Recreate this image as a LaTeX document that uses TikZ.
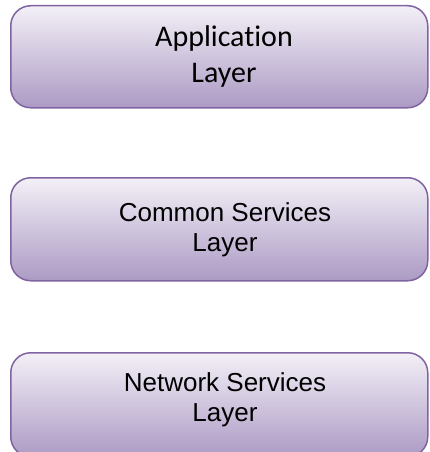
\documentclass[tikz,border=0pt]{standalone}
\usepackage{fontspec}
\setmainfont{Liberation Sans}
\newfontfamily\calib[Ligatures=NoCommon]{Carlito}
\definecolor{boxborder}{HTML}{8064A2}
\definecolor{boxtop}{HTML}{F3F0F7}
\definecolor{boxbot}{HTML}{AC9AC4}
\begin{document}
\begin{tikzpicture}[x=1pt,y=-1pt]
\useasboundingbox (0,0) rectangle (430,452);
\tikzset{
  layer/.style={draw=boxborder, line width=1.5pt, rounded corners=20pt,
    top color=boxtop, bottom color=boxbot, anchor=north west,
    minimum width=417pt, inner sep=0pt},
  lbl/.style={align=center, text=black, inner sep=0pt},
  calfont/.style={font=\calib\fontsize{30}{36}\selectfont},
  arfont/.style={font=\fontsize{26}{30}\selectfont}
}
\node[layer, minimum height=102pt] (b1) at (10,5) {};
\node[layer, minimum height=103pt] (b2) at (10,177) {};
\node[layer, minimum height=104pt] (b3) at (10,352) {};
\node[lbl, calfont] (t1) at (224,57) {Application\\Layer};
\node[lbl, arfont] (t2) at (225,230) {Common Services\\Layer};
\node[lbl, arfont] (t3) at (225,400) {Network Services\\Layer};
\end{tikzpicture}
\end{document}
